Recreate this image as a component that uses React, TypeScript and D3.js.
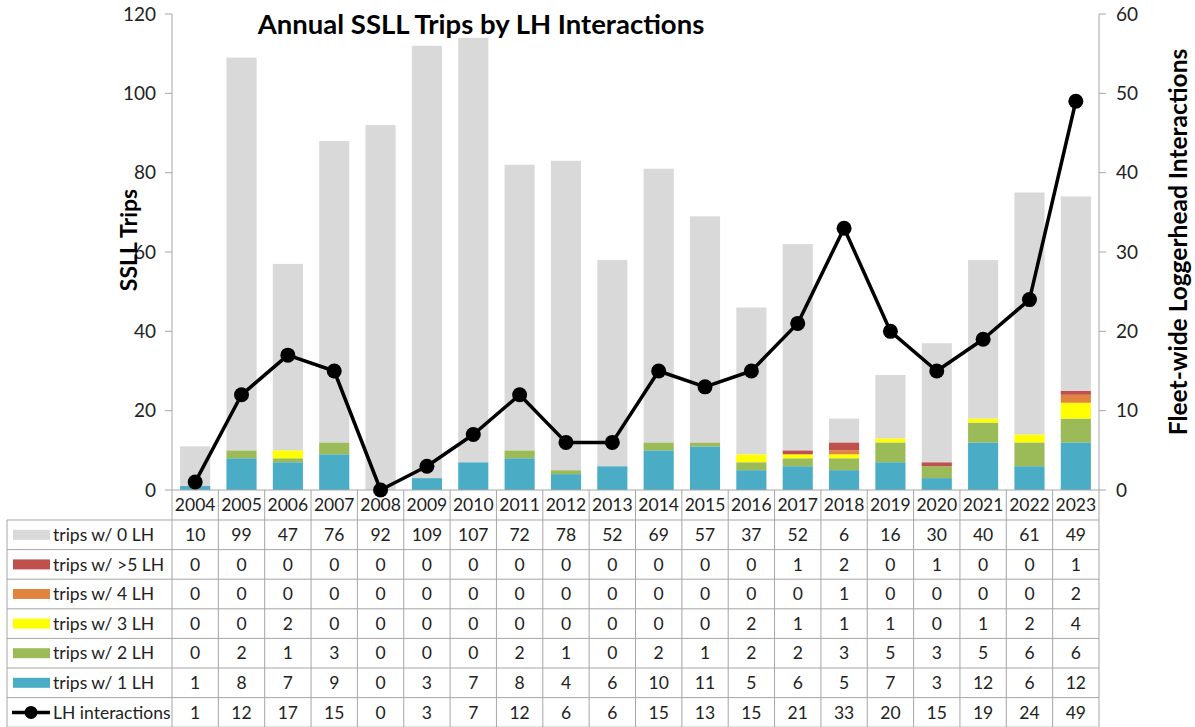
import React from "react";
import * as d3 from "d3";

const years = ["2004","2005","2006","2007","2008","2009","2010","2011","2012","2013","2014","2015","2016","2017","2018","2019","2020","2021","2022","2023"];
const trips0 = [10,99,47,76,92,109,107,72,78,52,69,57,37,52,6,16,30,40,61,49];
const trips5 = [0,0,0,0,0,0,0,0,0,0,0,0,0,1,2,0,1,0,0,1];
const trips4 = [0,0,0,0,0,0,0,0,0,0,0,0,0,0,1,0,0,0,0,2];
const trips3 = [0,0,2,0,0,0,0,0,0,0,0,0,2,1,1,1,0,1,2,4];
const trips2 = [0,2,1,3,0,0,0,2,1,0,2,1,2,2,3,5,3,5,6,6];
const trips1 = [1,8,7,9,0,3,7,8,4,6,10,11,5,6,5,7,3,12,6,12];
const lhInteractions = [1,12,17,15,0,3,7,12,6,6,15,13,15,21,33,20,15,19,24,49];
const leftTicks = [0,20,40,60,80,100,120];
const rightTicks = [0,10,20,30,40,50,60];

// stack order bottom -> top
const stackSeries = [
  { key: "trips w/ 1 LH", values: trips1, color: "#4bacc6" },
  { key: "trips w/ 2 LH", values: trips2, color: "#9bbb59" },
  { key: "trips w/ 3 LH", values: trips3, color: "#ffff00" },
  { key: "trips w/ 4 LH", values: trips4, color: "#e0843f" },
  { key: "trips w/ >5 LH", values: trips5, color: "#c0504d" },
  { key: "trips w/ 0 LH", values: trips0, color: "#d9d9d9" },
];
// table order
const tableRows = [
  { key: "trips w/ 0 LH", values: trips0, color: "#d9d9d9", line: false },
  { key: "trips w/ >5 LH", values: trips5, color: "#c0504d", line: false },
  { key: "trips w/ 4 LH", values: trips4, color: "#e0843f", line: false },
  { key: "trips w/ 3 LH", values: trips3, color: "#ffff00", line: false },
  { key: "trips w/ 2 LH", values: trips2, color: "#9bbb59", line: false },
  { key: "trips w/ 1 LH", values: trips1, color: "#4bacc6", line: false },
  { key: "LH interactions", values: lhInteractions, color: "#000000", line: true },
];

const W = 1195, H = 727;
const plotL = 172, plotR = 1099, plotT = 14, plotB = 490;
const tableL = 7;
const yearRowH = 30;
const rowH = 29.6;
const FONT = "Lato, 'Open Sans', sans-serif";
const GRID = "#a6a6a6";
const TFS = 17.5;

export default function App() {
  const x = d3.scaleBand<string>().domain(years).range([plotL, plotR]).paddingInner(0.35).paddingOuter(0.175);
  const xCol = d3.scaleBand<string>().domain(years).range([plotL, plotR]);
  const yL = d3.scaleLinear().domain([0, 120]).range([plotB, plotT]);
  const yR = d3.scaleLinear().domain([0, 60]).range([plotB, plotT]);

  const stackData = years.map((yr, i) => {
    const o: any = { year: yr };
    stackSeries.forEach(s => (o[s.key] = s.values[i]));
    return o;
  });
  const stacked = d3.stack<any>().keys(stackSeries.map(s => s.key))(stackData);

  const line = d3.line<number>()
    .x((_, i) => (xCol(years[i]) as number) + xCol.bandwidth() / 2)
    .y(d => yR(d));

  const tableTop = plotB + yearRowH;
  const tableBottom = tableTop + rowH * tableRows.length;

  return (
    <svg width={W} height={H} style={{ position: "absolute", left: 0, top: 0, background: "#fff" }} fontFamily={FONT}>
      <rect x={0} y={0} width={W} height={H} fill="#fff" />
      {/* bars */}
      {stacked.map((layer, li) => (
        <g key={layer.key} fill={stackSeries[li].color}>
          {layer.map((d, i) => d[1] - d[0] > 0 ? (
            <rect key={i} x={x(years[i])} width={x.bandwidth()} y={yL(d[1])} height={yL(d[0]) - yL(d[1])} />
          ) : null)}
        </g>
      ))}
      {/* left axis */}
      <line x1={plotL} x2={plotL} y1={plotT} y2={plotB} stroke={GRID} strokeWidth={1} />
      {leftTicks.map(t => (
        <g key={t}>
          <line x1={plotL - 7} x2={plotL} y1={yL(t)} y2={yL(t)} stroke={GRID} />
          <text x={plotL - 16} y={yL(t)} dy="0.35em" textAnchor="end" fontSize={19} fill="#222">{t}</text>
        </g>
      ))}
      {/* right axis */}
      <line x1={plotR} x2={plotR} y1={plotT} y2={plotB} stroke={GRID} strokeWidth={1} />
      {rightTicks.map(t => (
        <g key={t}>
          <line x1={plotR} x2={plotR + 7} y1={yR(t)} y2={yR(t)} stroke={GRID} />
          <text x={plotR + 17} y={yR(t)} dy="0.35em" textAnchor="start" fontSize={19} fill="#222">{t}</text>
        </g>
      ))}
      {/* bottom axis line */}
      <line x1={plotL} x2={plotR} y1={plotB} y2={plotB} stroke={GRID} />
      {/* line series */}
      <path d={line(lhInteractions) as string} fill="none" stroke="#000" strokeWidth={3.5} strokeLinejoin="round" />
      {lhInteractions.map((v, i) => (
        <circle key={i} cx={(xCol(years[i]) as number) + xCol.bandwidth() / 2} cy={yR(v)} r={7.5} fill="#000" />
      ))}
      {/* titles */}
      <text x={481} y={34} textAnchor="middle" fontSize={27.5} fontWeight="bold" fill="#000">Annual SSLL Trips by LH Interactions</text>
      <text transform={`translate(137,240) rotate(-90)`} textAnchor="middle" fontSize={23} fontWeight="bold" fill="#000">SSLL Trips</text>
      <text transform={`translate(1187,242) rotate(-90)`} textAnchor="middle" fontSize={24.5} fontWeight="bold" fill="#000">Fleet-wide Loggerhead Interactions</text>
      {/* table: year header */}
      {years.map(yr => (
        <text key={yr} x={(xCol(yr) as number) + xCol.bandwidth() / 2} y={plotB + yearRowH / 2} dy="0.35em" textAnchor="middle" fontSize={TFS} fill="#222">{yr}</text>
      ))}
      {/* vertical lines */}
      {years.map((yr) => (
        <line key={yr} x1={xCol(yr)} x2={xCol(yr)} y1={plotB} y2={tableBottom} stroke={GRID} />
      ))}
      <line x1={plotR} x2={plotR} y1={plotB} y2={tableBottom} stroke={GRID} />
      <line x1={tableL} x2={tableL} y1={tableTop} y2={tableBottom} stroke={GRID} />
      {tableRows.map((r, ri) => {
        const y0 = tableTop + ri * rowH;
        const cy = y0 + rowH / 2;
        return (
          <g key={r.key}>
            <line x1={tableL} x2={plotR} y1={y0} y2={y0} stroke={GRID} />
            {r.line ? (
              <g>
                <line x1={12} x2={50} y1={cy} y2={cy} stroke="#000" strokeWidth={3.5} />
                <circle cx={31} cy={cy} r={6.5} fill="#000" />
              </g>
            ) : (
              <rect x={13} y={cy - 5} width={37} height={10} fill={r.color} />
            )}
            <text x={53} y={cy} dy="0.35em" fontSize={TFS} fill="#222">{r.key}</text>
            {r.values.map((v, i) => (
              <text key={i} x={(xCol(years[i]) as number) + xCol.bandwidth() / 2} y={cy} dy="0.35em" textAnchor="middle" fontSize={TFS} fill="#222">{v}</text>
            ))}
          </g>
        );
      })}
      <line x1={tableL} x2={plotR} y1={tableBottom} y2={tableBottom} stroke={GRID} />
    </svg>
  );
}
